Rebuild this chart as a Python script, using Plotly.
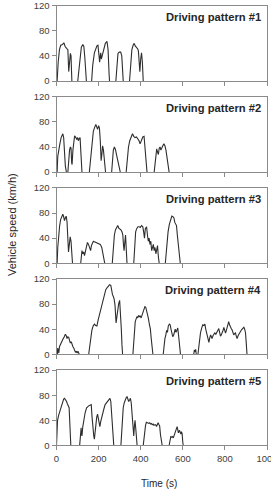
import plotly.graph_objects as go

# ---------------- data ----------------
N = None  # separates driving segments (vehicle stopped)

P1_T = [0, 3, 8, 14, 20, 28, 35, 41, 48, 54, 58, 62, 66, 69, 73, N,
        101, 106, 112, 118, 125, 130, 135, 140, 142, N,
        167, 172, 180, 186, 192, 197, 201, 205, 208, 210, 213, 218, 224, 232, 240, 245, 250, 252, N,
        282, 287, 292, 298, 305, 310, 314, 317, N,
        347, 352, 358, 364, 369, 374, 380, 386, 389, 393, 396, 400, 404, 408, 412]
P1_S = [0, 0, 30, 50, 57, 58, 61, 55, 52, 50, 15, 40, 44, 40, 0, N,
        0, 20, 42, 54, 58, 55, 35, 10, 0, N,
        0, 25, 45, 52, 56, 57, 45, 30, 40, 45, 35, 42, 52, 60, 63, 50, 10, 0, N,
        0, 25, 44, 46, 46, 40, 15, 0, N,
        0, 30, 50, 57, 60, 56, 54, 51, 48, 30, 15, 35, 45, 30, 0]

P2_T = [0, 3, 6, 10, 16, 22, 30, 34, 38, 42, 47, N,
        54, 58, 62, 66, 69, 72, 74, 78, 82, 86, 92, 96, 100, 104, 108, 112, 116, 121, N,
        156, 162, 168, 175, 182, 187, 191, 195, 200, 204, 208, 212, 216, 219, 223, 228, 233, N,
        262, 266, 270, 275, 280, 285, 292, 298, 303, N,
        331, 336, 342, 348, 355, 361, 367, 373, 380, 386, 392, 397, 403, 410, 416, 420, 425, 430, N,
        464, 468, 472, 476, 480, 484, 488, 492, 496, 500, 505, 510, 515, 520, 525, 530, 535]
P2_S = [0, 0, 25, 35, 45, 55, 61, 55, 30, 10, 0, N,
        0, 20, 35, 40, 38, 15, 12, 35, 50, 58, 55, 52, 55, 50, 54, 55, 30, 0, N,
        0, 25, 50, 65, 72, 76, 72, 68, 74, 70, 50, 18, 30, 42, 35, 10, 0, N,
        0, 20, 35, 40, 36, 28, 15, 5, 0, N,
        0, 20, 40, 50, 57, 61, 57, 55, 56, 53, 50, 45, 50, 56, 57, 45, 20, 0, N,
        0, 15, 30, 37, 32, 28, 38, 40, 35, 40, 42, 45, 42, 35, 25, 10, 0]

P3_T = [0, 3, 6, 10, 15, 20, 26, 30, 34, 38, 42, 46, 50, 54, 57, 61, 65, 69, 73, 76, N,
        115, 118, 121, 125, 129, 133, 137, 142, 147, 152, 157, 162, 166, 170, 175, 180, 190, 200, 208, 215, 220, 225, 229, N,
        265, 270, 275, 280, 286, 291, 296, 301, 306, 311, 315, 318, 321, 325, 328, 331, 335, N,
        367, 371, 376, 381, 387, 393, 398, 404, 410, 414, 418, 422, 428, 432, 436, 440, 444, 448, 452, 456, 460, 464, 468, 472, 476, 480, 484, 488, N,
        517, 521, 525, 530, 536, 542, 548, 553, 558, 562, 566, 570, 574, 580, 585, 588]
P3_S = [0, 0, 25, 45, 60, 70, 76, 78, 74, 68, 72, 75, 66, 40, 18, 30, 42, 35, 10, 0, N,
        0, 10, 20, 15, 18, 12, 18, 25, 33, 30, 25, 20, 28, 33, 35, 34, 33, 32, 30, 25, 15, 5, 0, N,
        0, 25, 45, 53, 58, 60, 56, 55, 53, 50, 45, 30, 20, 35, 45, 25, 0, N,
        0, 30, 50, 55, 58, 58, 57, 60, 58, 50, 40, 55, 58, 45, 35, 40, 30, 35, 20, 25, 30, 20, 25, 15, 25, 28, 10, 0, N,
        0, 20, 40, 50, 62, 70, 75, 74, 72, 65, 62, 60, 45, 20, 5, 0]

P4_T = [0, 2, 4, 6, 9, 11, 14, 18, 22, 27, 32, 37, 42, 46, 50, 54, 58, 62, 66, 70, 74, 78, 82, 86, 90, 94, 98, 102, 108, N,
        153, 158, 163, 168, 174, 180, 186, 192, 198, 203, 208, 213, 218, 223, 228, 234, 240, 246, 252, 258, 262, 266, 270, 274, 278, 283, 287, 291, 295, 300, 304, 308, 311, 314, N,
        363, 366, 370, 374, 378, 382, 386, 390, 394, 398, 402, 406, 410, 415, 420, 424, 428, 432, 436, 440, 446, 450, 454, 458, N,
        507, 511, 515, 519, 523, 527, 531, 536, 540, 544, 548, 552, 556, 560, 564, 568, 572, 576, 580, 585, 589, N,
        652, 655, 658, 661, 664, N,
        672, 677, 684, 690, 695, 700, 705, 709, 713, 717, 720, 724, 728, 732, 736, 739, 744, 748, 752, 757, 763, 767, 771, 775, 779, 783, 787,
        791, 795, 799, 803, 807, 810, 814, 818, 822, 826, 830, 834, 838, 842, 846, 850, 854, 858, 863, 869, 874, 879, 884, 890, 894, 898, 902, 905]
P4_S = [8, 3, 0, 10, 5, 2, 12, 15, 20, 22, 25, 28, 32, 30, 25, 28, 27, 22, 18, 20, 15, 12, 10, 6, 3, 5, 2, 5, 0, N,
        0, 15, 30, 38, 45, 48, 46, 45, 55, 62, 68, 72, 80, 90, 98, 103, 106, 109, 111, 110, 100, 95, 92, 88, 78, 50, 60, 76, 80, 86, 70, 40, 15, 0, N,
        0, 20, 40, 52, 56, 60, 58, 62, 60, 61, 58, 63, 65, 70, 76, 75, 70, 65, 58, 50, 40, 25, 10, 0, N,
        0, 15, 25, 30, 38, 35, 45, 48, 47, 40, 32, 28, 30, 38, 40, 35, 40, 42, 30, 10, 0, N,
        0, 7, 4, 8, 0, N,
        0, 18, 34, 42, 47, 46, 48, 40, 34, 30, 29, 19, 26, 31, 28, 25, 30, 33, 34, 32, 36, 38, 41, 35, 29, 31, 34,
        38, 43, 38, 34, 38, 43, 47, 52, 47, 43, 41, 39, 35, 31, 33, 34, 29, 25, 30, 34, 37, 39, 41, 43, 40, 34, 15, 0]

P5_T = [0, 2, 5, 10, 16, 22, 28, 34, 38, 43, 48, 52, 56, 60, 64, 68, N,
        110, 114, 117, 119, 121, 125, 129, 136, 143, 148, 153, 159, 165, 169, 173, 177, 180, 184, 187, 191, 195, 199, 203, 206, 210, 214, 219,
        225, 231, 237, 243, 249, 254, 258, 262, 266, 269, 272, N,
        306, 310, 313, 317, 322, 327, 331, 335, 339, 343, 347, 351, 355, 359, 363, 367, 370, 373, 377, 380, 383, N,
        412, 416, 419, 423, 427, 431, 435, 439, 443, 447, 451, 455, 459, 463, 467, 471, 475, 479, 483, 487, 490, 494, 498, 502, N,
        535, 539, 543, 547, 551, 555, 559, 563, 567, 571, 573, 576, 579, 582, 585, 588, 591, 594, 597, 600, 602]
P5_S = [0, 20, 40, 48, 55, 63, 70, 74, 75, 73, 70, 66, 63, 60, 30, 0, N,
        0, 20, 28, 18, 15, 30, 40, 52, 60, 62, 63, 64, 65, 45, 25, 15, 10, 28, 40, 45, 50, 42, 33, 30, 38, 45, 50,
        58, 65, 68, 70, 73, 75, 70, 50, 30, 12, 0, N,
        0, 30, 50, 60, 68, 74, 76, 78, 74, 70, 72, 75, 68, 50, 30, 15, 30, 40, 25, 10, 0, N,
        0, 15, 25, 32, 37, 36, 35, 35, 36, 34, 35, 33, 34, 32, 33, 33, 30, 34, 36, 33, 31, 17, 8, 0, N,
        0, 10, 14, 13, 14, 12, 16, 18, 22, 28, 30, 25, 20, 23, 24, 20, 18, 22, 18, 5, 0]

TIMES = [P1_T, P2_T, P3_T, P4_T, P5_T]
SPEEDS = [P1_S, P2_S, P3_S, P4_S, P5_S]
PANEL_LABELS = ["Driving pattern #1", "Driving pattern #2", "Driving pattern #3",
                "Driving pattern #4", "Driving pattern #5"]
TIME_TICKS = [0, 200, 400, 600, 800, 1000]
SPEED_TICKS = [0, 40, 80, 120]
X_TITLE = "Time (s)"
Y_TITLE = "Vehicle speed (km/h)"

# ---------------- layout ----------------
W, H = 271, 497
FONT = "Liberation Sans, Arial, sans-serif"
AX_COL = "#8a8a8a"
TXT_COL = "#404040"
LINE_COL = "#2e2e2e"

x_left, x_right = 56.5, 267.0
top0, pitch, ph = 5.7, 91.1, 75.3

fig = go.Figure()
layout = dict(
    width=W, height=H,
    margin=dict(l=0, r=0, t=0, b=0, autoexpand=False),
    paper_bgcolor="white", plot_bgcolor="white",
    showlegend=False,
    font=dict(family=FONT, color=TXT_COL),
)
annotations = []

for i in range(5):
    k = "" if i == 0 else str(i + 1)
    fig.add_trace(go.Scatter(
        x=TIMES[i], y=SPEEDS[i], mode="lines",
        line=dict(color=LINE_COL, width=1.1),
        connectgaps=False, hoverinfo="skip",
        xaxis="x" + k, yaxis="y" + k,
    ))
    top = top0 + pitch * i
    bot = top + ph
    ydom = [1 - bot / H, 1 - top / H]
    layout["xaxis" + k] = dict(
        domain=[x_left / W, x_right / W], range=[0, 1000],
        tickvals=TIME_TICKS, ticktext=[str(v) for v in TIME_TICKS],
        showticklabels=(i == 4), ticklabeloverflow="allow", automargin=False,
        ticks="outside", ticklen=4, tickcolor=AX_COL, tickwidth=1,
        showline=True, linecolor=AX_COL, linewidth=1, mirror=True,
        showgrid=False, zeroline=False,
        tickfont=dict(size=9.5, color=TXT_COL, family=FONT),
        anchor="y" + k, fixedrange=True,
    )
    layout["yaxis" + k] = dict(
        domain=ydom, range=[0, 120],
        tickvals=SPEED_TICKS, automargin=False,
        ticks="outside", ticklen=4, tickcolor=AX_COL, tickwidth=1,
        showline=True, linecolor=AX_COL, linewidth=1, mirror=True,
        showgrid=False, zeroline=False,
        tickfont=dict(size=9.5, color=TXT_COL, family=FONT),
        anchor="x" + k, fixedrange=True,
    )
    annotations.append(dict(
        text="<b>" + PANEL_LABELS[i] + "</b>", xref="paper", yref="paper",
        x=263 / W, y=1 - (top + 11) / H, xanchor="right", yanchor="middle",
        showarrow=False, font=dict(size=11.2, color="#262626", family=FONT),
    ))

annotations.append(dict(
    text=X_TITLE, xref="paper", yref="paper", x=159 / W, y=1 - 483 / H,
    xanchor="center", yanchor="middle", showarrow=False,
    font=dict(size=10, color="#262626", family=FONT),
))
annotations.append(dict(
    text=Y_TITLE, xref="paper", yref="paper", x=12 / W, y=1 - 225 / H,
    xanchor="center", yanchor="middle", textangle=-90, showarrow=False,
    font=dict(size=11, color="#262626", family=FONT),
))
layout["annotations"] = annotations
fig.update_layout(**layout)
fig.write_html(
    "out.html",
    config={"displayModeBar": False},
    post_script="document.documentElement.style.overflow='hidden';document.body.style.overflow='hidden';",
)
